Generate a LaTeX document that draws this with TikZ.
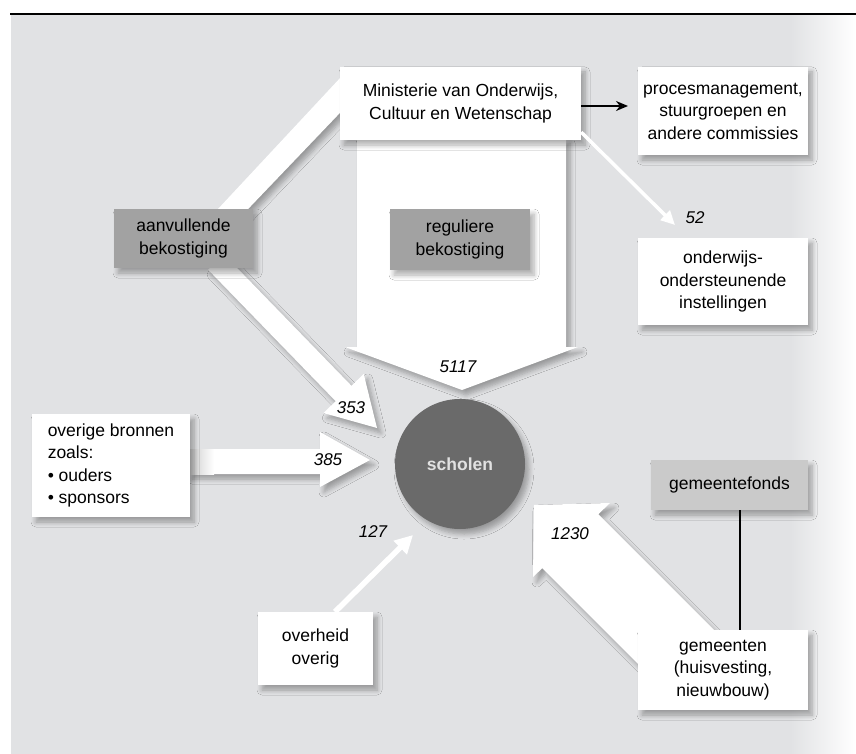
\documentclass[tikz,border=0pt]{standalone}
\usepackage{fontspec}
\setmainfont{Liberation Sans}
\usetikzlibrary{shadows.blur,arrows.meta,calc}
\definecolor{bgc}{RGB}{225,226,228}
\definecolor{darkbox}{RGB}{162,162,162}
\definecolor{lightbox}{RGB}{202,202,202}
\definecolor{circ}{RGB}{106,106,106}
\definecolor{circtext}{RGB}{225,225,225}
\tikzset{
 shd/.style={blur shadow={shadow xshift=4pt,shadow yshift=-5pt,shadow blur radius=5pt,shadow blur steps=6,shadow opacity=32}},
 box/.style={fill=white,shd,inner sep=0pt,align=center,font=\fontsize{17.5}{22.5}\selectfont},
 graybox/.style={box,fill=darkbox},
 num/.style={font=\fontsize{17}{20}\selectfont\itshape,inner sep=0pt},
 flow/.style={fill=white,shd},
}
\begin{document}
\begin{tikzpicture}[x=1pt,y=-1pt]
\useasboundingbox (0,0) rectangle (856,754);
\fill[white] (0,0) rectangle (856,754);
\fill[bgc] (11,15) rectangle (856,754);
\shade[left color=bgc,right color=white] (790,15) rectangle (856,754);
\draw[line width=2.5pt] (10,14) -- (856,14);

% big flow arrows
\fill[flow] (357,138) -- (566,138) -- (566,347) -- (578,347) -- (462,390) -- (345,347) -- (357,347) -- cycle;
\fill[flow] (350,67.4) -- (350,102.4) -- (242.4,215) -- (212.4,215) -- cycle;
\fill[flow] (223.9,254.3) -- (351.5,385.8) -- (363.7,374.0) -- (377,428) -- (323.5,413.0) -- (335.7,401.2) -- (208.1,269.7) -- cycle;
\fill[flow] (188,449) -- (320,449) -- (320,432) -- (370,460) -- (320,487) -- (320,474) -- (188,474) -- cycle;
\shade[left color=lightbox,right color=white] (188,449) rectangle (214,474);
\fill[flow] (534,505) -- (610,503) -- (598.3,514.2) -- (725,641) -- (655,681) -- (542.2,568.2) -- (533,577) -- cycle;

% boxes
\node[box,minimum width=241pt,minimum height=73pt] (mini) at (460.5,103.5) {Ministerie van Onderwijs,\\Cultuur en Wetenschap};
\node[box,minimum width=170pt,minimum height=88pt] (proc) at (723,111) {procesmanagement,\\stuurgroepen en\\andere commissies};
\node[box,minimum width=170pt,minimum height=87pt] (onder) at (723,281.5) {onderwijs-\\ondersteunende\\instellingen};
\node[graybox,minimum width=139pt,minimum height=59pt] (aanv) at (183.5,238.5) {aanvullende\\bekostiging};
\node[graybox,minimum width=140pt,minimum height=61pt] (regul) at (460,239.5) {reguliere\\bekostiging};
\node[box,align=left,minimum width=158pt,minimum height=103pt] (overige) at (111,465.5) {overige bronnen\\zoals:\\\textbullet\ ouders\\\textbullet\ sponsors};
\node[box,minimum width=115pt,minimum height=73pt] (overheid) at (315.5,648.5) {overheid\\overig};
\node[box,fill=lightbox,minimum width=157pt,minimum height=50pt] (gfonds) at (729.5,485) {gemeentefonds};
\node[box,minimum width=170pt,minimum height=80pt] (gemeenten) at (723,670) {gemeenten\\(huisvesting,\\nieuwbouw)};
\node[circle,fill=circ,shd,minimum size=130pt,inner sep=0pt,text=circtext,font=\fontsize{17.5}{20}\selectfont\bfseries] (scholen) at (460,464) {scholen};

% thin connectors
\coordinate (pa) at (628,106);
\draw[line width=1.8pt,-{Stealth[length=12pt,width=10pt]}] (pa -| mini.east) -- (pa);
\coordinate (t52) at (675,225);
\draw[white,line width=3.5pt,-{Triangle[width=13pt,length=14pt]}] ([yshift=8pt]mini.south east) -- (t52);
\coordinate (t127) at (413,535);
\draw[white,line width=5.5pt,-{Triangle[width=18pt,length=18pt]}] ([xshift=19.5pt]overheid.north) -- (t127);
\draw[line width=1.8pt] ([xshift=10.5pt]gfonds.south) -- ([xshift=10.5pt]gfonds.south |- gemeenten.north);

% numbers
\node[num] (n5117) at (458,367) {5117};
\node[num] (n353) at (351,408) {353};
\node[num] (n385) at (328,460) {385};
\node[num] (n127) at (373,532) {127};
\node[num] (n1230) at (570,534) {1230};
\node[num] (n52) at (695,218) {52};
\end{tikzpicture}
\end{document}
